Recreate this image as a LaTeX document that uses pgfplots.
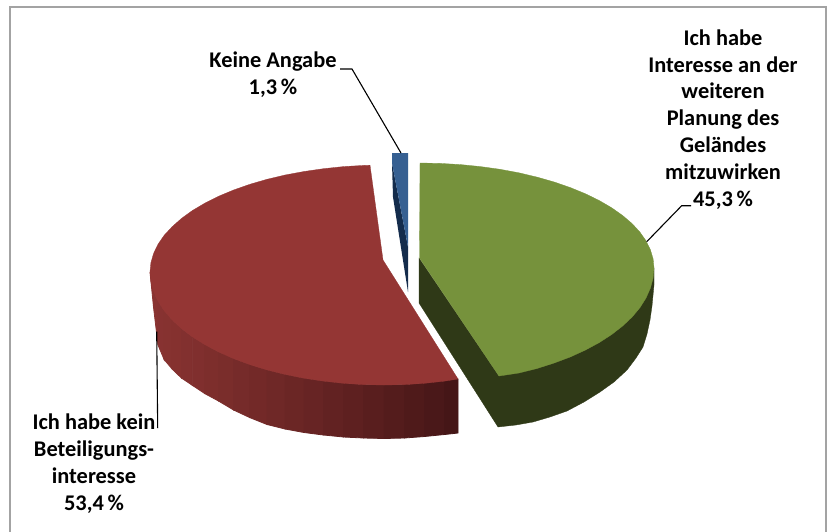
\documentclass[border=0pt]{standalone}
\usepackage{pgfplots}
\pgfplotsset{compat=1.18}
\usepackage{fontspec}
\setmainfont{Carlito}
\definecolor{frameC}{HTML}{A3A3A3}
\definecolor{greenT}{HTML}{76923C}
\definecolor{greenD}{HTML}{2F3917}
\definecolor{redT}{HTML}{943634}
\definecolor{wallL}{HTML}{8B3432}
\definecolor{wallR}{HTML}{441516}
\definecolor{blueT}{HTML}{366092}
\definecolor{blueD}{HTML}{142C4C}
\newcommand{\strip}[7]{\addplot[draw=wallR!#1!wallL,fill=wallR!#1!wallL,line width=0.8pt] coordinates {(#2,#3) (#4,#5) (#4,#6) (#2,#7)} -- cycle;}
\begin{document}
\begin{tikzpicture}[x=1pt,y=1pt]
\begin{axis}[
  at={(0,0)},anchor=south west,
  width=829pt,height=531pt,scale only axis,
  xmin=0,xmax=829,ymin=0,ymax=531,y dir=reverse,
  hide axis,clip=true]
% background and frame
\addplot[draw=none,fill=white] coordinates {(0,0) (829,0) (829,531) (0,531)} -- cycle;
\addplot[draw=frameC,line width=1.2pt] coordinates {(10,540) (10,7) (826,7) (826,540)};
% red wall
\strip{0}{150}{272}{153.6}{291.6}{308}{272}
\strip{3}{153.6}{291.6}{158}{301.2}{345}{308}
\strip{5}{158}{301.2}{164.1}{310.6}{359.5}{345}
\strip{7}{164.1}{310.6}{172.1}{319.8}{369}{359.5}
\strip{9}{172.1}{319.8}{181.4}{328.5}{378}{369}
\strip{12}{181.4}{328.5}{192.3}{336.8}{385.3}{378}
\strip{16}{192.3}{336.8}{204.8}{344.6}{393.6}{385.3}
\strip{20}{204.8}{344.6}{218.5}{351.9}{401}{393.6}
\strip{24}{218.5}{351.9}{233.6}{358.6}{410}{401}
\strip{29}{233.6}{358.6}{249.8}{364.6}{417.6}{410}
\strip{34}{249.8}{364.6}{267}{369.9}{424.5}{417.6}
\strip{39}{267}{369.9}{285.1}{374.4}{429}{424.5}
\strip{45}{285.1}{374.4}{304}{378.2}{432.5}{429}
\strip{51}{304}{378.2}{323.4}{381.1}{435}{432.5}
\strip{58}{323.4}{381.1}{343.4}{383.3}{437}{435}
\strip{64}{343.4}{383.3}{363.6}{384.6}{438}{437}
\strip{71}{363.6}{384.6}{384}{385}{438.5}{438}
\strip{77}{384}{385}{404.4}{384.6}{438}{438.5}
\strip{84}{404.4}{384.6}{424.6}{383.3}{436.5}{438}
\strip{91}{424.6}{383.3}{444.6}{381.1}{434.5}{436.5}
\strip{98}{444.6}{381.1}{458}{379}{433}{434.5}
% red top
\addplot[draw=redT,fill=redT,line width=0.3pt] coordinates {
(383,260) (370,165.2) (363.6,165.4) (343.4,166.6) (323.4,168.7) (304,171.5) (285.1,175) (267,179.3)
(249.8,184.3) (233.6,190) (218.5,196.3) (204.8,203.2) (192.3,210.6) (181.4,218.5) (172.1,226.8)
(164.1,235.4) (158,244.3) (153.6,253.4) (150.9,262.7) (150,272)
(150.9,281.9) (153.6,291.6) (158,301.2) (164.1,310.6) (172.1,319.8) (181.4,328.5) (192.3,336.8)
(204.8,344.6) (218.5,351.9) (233.6,358.6) (249.8,364.6) (267,369.9) (285.1,374.4) (304,378.2)
(323.4,381.1) (343.4,383.3) (363.6,384.6) (384,385) (404.4,384.6) (424.6,383.3) (444.6,381.1) (458,379)
} -- cycle;
% blue slice
\addplot[draw=none,fill=blueD] coordinates {(392,163) (408,247) (408,292) (393,197)} -- cycle;
\addplot[draw=none,fill=blueT] coordinates {(392,153) (408,153) (408,247) (392,163)} -- cycle;
% green wall and cut face
\addplot[draw=greenD,fill=greenD,line width=0.3pt] coordinates {
(419,258) (419,303) (498,427) (516,425) (533,422) (550,417) (567,411) (584,402) (600,392) (614,382)
(627,370) (636,358) (643,347) (647,334) (650,320) (652,306) (654,285) (654,268) (499,376)
} -- cycle;
% green top
\addplot[draw=greenT,fill=greenT,line width=0.3pt] coordinates {
(419.5,258) (420,163) (440.4,163.4) (460.6,164.6) (480.6,166.6) (500,169.3) (518.9,172.8) (537,177.1)
(554.2,182) (570.4,187.6) (585.5,193.8) (599.2,200.5) (611.7,207.8) (622.6,215.5) (632.1,223.6)
(639.9,232.1) (646,240.8) (650.4,249.8) (653.1,258.8) (654,268)
(653.1,278.1) (650.4,288.1) (646,298) (639.9,307.7) (632.1,317) (622.6,326) (611.7,334.5)
(599.2,342.6) (585.5,350) (570.4,356.9) (554.2,363) (537,368.5) (518.9,373) (499,376)
} -- cycle;
% leader lines
\addplot[black,line width=1.1pt] coordinates {(340,69) (352,69) (401,153)};
\addplot[black,line width=1.1pt] coordinates {(646.7,241.7) (681.7,205.7) (691,205.7)};
\addplot[black,line width=1.1pt] coordinates {(156.7,331.7) (157.7,428)};
% labels
\node[align=center,font=\fontsize{22.4}{26.9}\selectfont\bfseries,anchor=center] at (axis cs:723,119.5)
  {Ich habe\\Interesse an der\\weiteren\\Planung des\\Geländes\\mitzuwirken\\45,3\,\%};
\node[align=center,font=\fontsize{22.4}{27}\selectfont\bfseries,anchor=center] at (axis cs:273,75)
  {Keine Angabe\\1,3\,\%};
\node[align=center,font=\fontsize{22.4}{27}\selectfont\bfseries,anchor=center] at (axis cs:94,464)
  {Ich habe kein\\Beteiligungs-\\interesse\\53,4\,\%};
\end{axis}
\end{tikzpicture}
\end{document}
